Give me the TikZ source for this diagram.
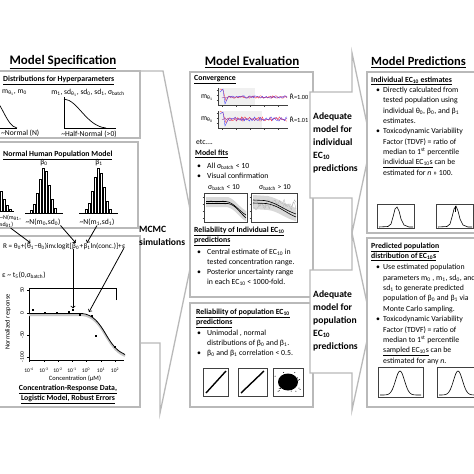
\documentclass[tikz,border=0pt]{standalone}
\usepackage{fontspec}
\setmainfont{Carlito}
\newfontfamily\djv{DejaVu Sans}
\usetikzlibrary{positioning}
\newcommand{\subt}[1]{\textsubscript{#1}}
\newcommand{\bulit}{\makebox[10pt][l]{\textbullet}}
\newcommand{\contit}{\hspace*{10pt}}
\newcommand{\bulr}{\makebox[7pt][l]{\textbullet}}
\newcommand{\contr}{\hspace*{7pt}}
\newcommand{\rhat}{{\djv R̂}}
\tikzset{
  panel/.style={draw=gray!55, line width=1.3pt, fill=white},
  coltitle/.style={font=\fontsize{13}{15}\selectfont\bfseries, inner sep=0pt},
  hdr/.style={font=\fontsize{7.8}{10}\selectfont\bfseries, inner sep=0pt, anchor=west},
  body/.style={font=\fontsize{7.8}{10.3}\selectfont, inner sep=0pt, align=left, anchor=north west},
  lab/.style={font=\fontsize{7.6}{9}\selectfont, inner sep=0pt},
  eqpart/.style={font=\fontsize{7.2}{9}\selectfont, inner sep=0pt, anchor=base west},
  verdict/.style={font=\fontsize{9.6}{12.8}\selectfont\bfseries, inner sep=0pt, align=left, anchor=north west},
  ticklab/.style={font=\fontsize{5.5}{6}\selectfont, inner sep=0pt},
  frm/.style={draw=black!75, line width=0.4pt},
}
\begin{document}
\begin{tikzpicture}[x=1pt, y=-1pt]
\useasboundingbox (0,0) rectangle (474,474);
\fill[white] (0,0) rectangle (474,474);
\pgfmathsetseed{7}

% BIG ARROW BEHIND THE LEFT COLUMN
\draw[panel] (-5,71) -- (163,71) -- (196,240) -- (160,413) -- (160,343) -- (-5,343);

% LEFT COLUMN
\node[coltitle] (spec) at (63,62) {\underline{Model Specification}};
\draw[panel] (-5,71) rectangle (140,138);
\draw[panel] (-5,142) rectangle (138,228);
\draw[panel] (-5,236) rectangle (140,407);

% hyperparameters
\node[hdr] (hyp) at (3,80) {\underline{Distributions for Hyperparameters}};
\node[lab, anchor=west] (mlo) at (2,93) {m\subt{θ\subt{1}}, m\subt{0}};
\draw[line width=0.7pt] (-8,98) .. controls (2,101) and (6,126) .. (17,128);
\draw[line width=0.7pt] (-8,128.5) -- (17,128.5);
\node[lab, anchor=west] (nlab) at (1,133) {\textasciitilde Normal (N)};
\node[lab] (hlab) at (88,93) {m\subt{1}, sd\subt{θ\subt{1}}, sd\subt{0}, sd\subt{1}, σ\subt{batch}};
\draw[line width=0.7pt] (64,97) -- (64,128.5) -- (116,128.5);
\draw[line width=0.7pt] (64,99) .. controls (78,100) and (86,126) .. (106,128);
\node[lab] (hnlab) at (89,134) {\textasciitilde Half-Normal (>0)};

% population model
\node[hdr] (popm) at (3,155) {\underline{Normal Human Population Model}};
\foreach \dx/\h in {-9/30,-6/27,-3/20,0/12,3/6,6/2}
  \draw[line width=0.5pt, fill=white] ({3+\dx},211) rectangle ++(2.4,-\h);
\foreach \dx/\h in {-13/3,-10/9,-7/20,-4/34,-1/45,2/42,5/28,8/14,11/5}
  \draw[line width=0.5pt, fill=white] ({43+\dx},213) rectangle ++(2.4,-\h);
\foreach \dx/\h in {-13/4,-10/10,-7/22,-4/36,-1/45,2/40,5/26,8/12,11/4}
  \draw[line width=0.5pt, fill=white] ({98+\dx},213) rectangle ++(2.4,-\h);
\draw (-5,211.5) -- (14,211.5);
\draw (25,213.5) -- (63,213.5);
\draw (79,213.5) -- (118,213.5);
\node[lab] (b0) at (44,163) {β\subt{0}};
\node[lab] (b1) at (99,163) {β\subt{1}};
\node[lab, font=\fontsize{6}{6.8}\selectfont, align=left, anchor=north west] (nth) at (0,215) {\textasciitilde N(m\subt{θ1},\\sd\subt{θ1})};
\node[lab] (n0) at (43,222) {\textasciitilde N(m\subt{0},sd\subt{0})};
\node[lab] (n1) at (97,222) {\textasciitilde N(m\subt{1},sd\subt{1})};

% model equation
\node[eqpart] (eqa) at (3,248) {R = θ\subt{0}+(};
\node[eqpart] (eqt1) at (eqa.base east) {θ\subt{1}};
\node[eqpart] (eqm) at (eqt1.base east) {−θ\subt{0})inv.logit[};
\node[eqpart] (eqb0) at (eqm.base east) {β\subt{0}};
\node[eqpart] (eqp) at (eqb0.base east) {+};
\node[eqpart] (eqb1) at (eqp.base east) {β\subt{1}};
\node[eqpart] (eqln) at (eqb1.base east) {ln(conc.)]+};
\node[eqpart] (eqe) at (eqln.base east) {ε};
\node[lab, anchor=west] (err) at (2,275) {ε \textasciitilde{} t\subt{5}(0,σ\subt{batch})};

% dose response plot
\draw[line width=0.6pt] (116,300) -- (116,288) -- (29,288) -- (29,360) -- (124,360);
\foreach \y/\t [count=\i] in {290/50, 313/0, 335/-50, 357/-100} {
  \draw (27,\y) -- (29,\y);
  \node[ticklab, rotate=90] (yt\i) at (22,\y) {\t};
}
\foreach \x/\e [count=\i] in {29/-4, 44/-3, 58/-2, 72/-1, 86/0, 101/1, 115/2} {
  \draw (\x,360) -- (\x,362);
  \node[ticklab] (xt\i) at (\x,370) {10\textsuperscript{\e}};
}
\node[ticklab, font=\fontsize{6.5}{7}\selectfont] (xlab) at (75,379) {Concentration (µM)};
\node[ticklab, rotate=90, font=\fontsize{6.5}{7}\selectfont] (ylab) at (8,322) {Normalized response};
\draw[gray!45, line width=2pt] (29,315) -- (82,315) .. controls (93,316) and (99,324) .. (106,336) .. controls (113,348) and (118,353) .. (125,356);
\draw[line width=0.8pt] (29,313.5) -- (82,313.5) .. controls (93,314.5) and (99,322.5) .. (106,334.5) .. controls (113,346.5) and (118,351.5) .. (125,354.5);
\foreach \px/\py [count=\i] in {33/310, 45/313, 57/313, 69/312, 73/310, 80/315, 92/316, 96/336, 115/347}
  \node[fill, inner sep=1.4pt] (dp\i) at (\px,\py) {};
\coordinate (fitpt) at (89,312);

% ARROWS
\draw[->, line width=0.8pt] (nth.south) -- (eqt1.north);
\draw[->, line width=0.8pt] (n0.south east) -- (eqb0.north);
\draw[->, line width=0.8pt] (n1.south) -- (eqb1.north);
\draw[->, line width=0.8pt] (dp5 |- eqa.south) -- (dp5.north);
\draw[->, line width=0.8pt] (eqe.south) -- (fitpt);

\node[hdr, anchor=center, align=center] (cap1) at (68,394) {\underline{Concentration-Response Data,}\\\underline{Logistic Model, Robust Errors}};

\node[verdict] (mcmc) at (139,226) {MCMC\\simulations};

% MIDDLE COLUMN
\node[coltitle] (eval) at (252,62) {\underline{Model Evaluation}};
\draw[panel] (190,72) rectangle (313,297);
\draw[panel] (190,303) rectangle (313,407);

% convergence
\node[hdr] (conv) at (194,80) {\underline{Convergence}};
\node[lab] (mth1) at (207,98) {m\subt{θ\subt{1}}};
\fill[gray!12] (219,88) rectangle (255,104.5);
\draw[frm] (218,88) -- (218,105) -- (288,105);
\foreach \t in {90,95,100} \draw[frm] (216.5,\t) -- (218,\t);
\foreach \t in {222,236,250,264,278} \draw[frm] (\t,105) -- (\t,106.5);
\draw[red!75, line width=0.35pt] (220,89) -- (223,90) -- (226,101) -- (229,96) -- plot[domain=230:287, samples=45] (\x,{97+1.3*rand});
\draw[blue!75, line width=0.35pt] (220,92) -- (223,89) -- (225,104) -- (228,97) -- plot[domain=230:287, samples=45] (\x,{97+1.3*rand});
\draw[violet!80, line width=0.35pt] plot[domain=222:287, samples=45] (\x,{97+1.1*rand});
\node[lab, font=\fontsize{6.3}{7}\selectfont] (rh1) at (299,97) {\rhat=1.00};

\node[lab] (mth0) at (207,120) {m\subt{θ\subt{0}}};
\fill[gray!12] (219,111) rectangle (262,127.5);
\draw[frm] (218,111) -- (218,128) -- (288,128);
\foreach \t in {113,118,123} \draw[frm] (216.5,\t) -- (218,\t);
\foreach \t in {222,236,250,264,278} \draw[frm] (\t,128) -- (\t,129.5);
\draw[red!75, line width=0.35pt] (220,111) -- (223,113) -- (226,123) -- (229,118) -- plot[domain=230:287, samples=45] (\x,{119+2.2*rand});
\draw[blue!75, line width=0.35pt] (220,114) -- (223,112) -- (225,126) -- (228,120) -- plot[domain=230:287, samples=45] (\x,{119+2.2*rand});
\draw[violet!80, line width=0.35pt] plot[domain=222:287, samples=45] (\x,{119+1.8*rand});
\node[lab, font=\fontsize{6.3}{7}\selectfont] (rh2) at (299,120) {\rhat=1.01};
\node[lab, anchor=west] (etc) at (196,142) {etc\ldots.};

% model fits
\node[hdr] (fits) at (195,154) {\underline{Model fits}};
\node[body] (fitbul) at (197,163) {\bulit All σ\subt{batch} < 10\\\bulit Visual confirmation};
\node[lab] (sgl) at (224,188) {σ\subt{batch} < 10};
\node[lab] (sgh) at (275,188) {σ\subt{batch} > 10};
\draw[frm] (204,193) rectangle (247,222);
\foreach \t in {197,204,211,218} \draw[frm] (202.5,\t) -- (204,\t);
\fill[gray!30] (206,197) -- (228,197) .. controls (236,200) and (240,208) .. (246,211) -- (246,221) .. controls (240,219) and (236,209) .. (227,207) -- (206,207) -- cycle;
\draw[gray!60, line width=0.3pt] plot[domain=206:226, samples=15] (\x,{202+2.5*rand});
\draw[line width=0.6pt] (206,201.5) -- (226,201.5) .. controls (234,202.5) and (239,211) .. (246,215);
\draw[line width=0.6pt] (206,203.5) -- (228,203.5) .. controls (236,205) and (240,213) .. (246,218);
\draw[frm] (251,193) rectangle (297,222);
\foreach \t in {197,204,211,218} \draw[frm] (249.5,\t) -- (251,\t);
\fill[gray!30] (253,195) -- (268,196) .. controls (280,199) and (288,206) .. (296,208) -- (296,221) .. controls (286,219) and (278,211) .. (268,210) -- (253,209) -- cycle;
\draw[gray!60, line width=0.3pt] plot[domain=253:296, samples=30] (\x,{203+4*rand});
\draw[gray!60, line width=0.3pt] plot[domain=253:296, samples=30] (\x,{206+4*rand});
\draw[line width=0.6pt] (253,200) -- (264,200.5) .. controls (276,202) and (284,210) .. (296,214);
\draw[line width=0.6pt] (253,203) -- (266,203.5) .. controls (278,205) and (286,213) .. (296,217);

% reliability of individual predictions
\node[hdr] (relind) at (194,231) {\underline{Reliability of Individual EC\subt{10}}};
\node[hdr] (relind2) at (194,241) {\underline{predictions}};
\node[body, font=\fontsize{7.8}{9.8}\selectfont] (indbul) at (197,249) {\bulit Central estimate of EC\subt{10} in\\\contit tested concentration range.\\\bulit Posterior uncertainty range\\\contit in each EC\subt{10} < 1000-fold.};

% reliability of population predictions
\node[hdr] (relpop) at (196,313) {\underline{Reliability of population EC\subt{10}}};
\node[hdr] (relpop2) at (196,323) {\underline{predictions}};
\node[body, font=\fontsize{7.8}{10}\selectfont] (popbul) at (197,330) {\bulit Unimodal , normal\\\contit distributions of β\subt{0} and β\subt{1}.\\\bulit β\subt{0} and β\subt{1} correlation < 0.5.};
\draw[frm] (203,368) rectangle (228,396);
\draw[frm] (238,368) rectangle (267,396);
\draw[frm] (273,368) rectangle (303,396);
\draw[line width=1.4pt] (206,393) -- (226,371);
\draw[line width=1.4pt] (241,393) -- (264,371);
\fill (288,382) ellipse (10 and 8.5);
\foreach \i in {1,...,30} \fill ({288+13*rand},{382+10*rand}) circle (0.5);

% ADEQUACY ARROWS
\draw[panel] (310,92) -- (352,92) -- (352,53) -- (371,143) -- (352,233) -- (352,198) -- (310,198) -- cycle;
\draw[panel] (310,270) -- (352,270) -- (352,233) -- (371,322) -- (352,410) -- (352,373) -- (310,373) -- cycle;
\node[verdict] (adind) at (313,113) {Adequate\\model for\\individual\\EC\subt{10}\\predictions};
\node[verdict] (adpop) at (313,291) {Adequate\\model for\\population\\EC\subt{10}\\predictions};

% RIGHT COLUMN
\node[coltitle, font=\fontsize{12.5}{15}\selectfont\bfseries, anchor=west] (pred) at (371,62) {\underline{Model Predictions}};
\draw[panel] (367,72) rectangle (480,233);
\draw[panel] (367,238) rectangle (480,407);

\node[hdr] (indest) at (371,81) {\underline{Individual EC\subt{10} estimates}};
\node[body] (indtxt) at (376,87) {\bulr Directly calculated from\\\contr tested population using\\\contr individual θ\subt{0}, β\subt{0}, and β\subt{1}\\\contr estimates.\\\bulr Toxicodynamic Variability\\\contr Factor (TDVF) = ratio of\\\contr median to 1\textsuperscript{st} percentile\\\contr \underline{individual EC\subt{10}s} can be\\\contr estimated for \textit{n} >> 100.};
\draw[frm] (377,204) rectangle (414,228);
\draw[frm] (436,204) rectangle (473,228);
\draw[line width=0.6pt] (379,227) -- (388,226.5) -- (391,224) -- (393,217) -- (395,209) -- (397,207) -- (399,211) -- (401,219) -- (404,225) -- (409,227) -- (413,227);
\draw[line width=0.6pt] (438,227) -- (447,226.5) -- (450,224) -- (452,217) -- (454,209) -- (456,206) -- (458,211) -- (460,219) -- (463,225) -- (468,227) -- (472,227);
\draw[line width=1pt] (455,206) -- (455,212);

\node[hdr] (popdist) at (371,247) {\underline{Predicted population}};
\node[hdr] (popdist2) at (371,257) {\underline{distribution of EC\subt{10}s}};
\node[body, font=\fontsize{7.8}{10.4}\selectfont] (poptxt) at (376,264) {\bulr Use estimated population\\\contr parameters m\subt{0} , m\subt{1}, sd\subt{0}, and\\\contr sd\subt{1} to generate predicted\\\contr population of β\subt{0} and β\subt{1} via\\\contr Monte Carlo sampling.\\\bulr Toxicodynamic Variability\\\contr Factor (TDVF) = ratio of\\\contr median to 1\textsuperscript{st} percentile\\\contr \underline{sampled EC\subt{10}s} can be\\\contr estimated for any \textit{n}.};
\draw[frm] (378,367) rectangle (423,397);
\draw[frm] (437,367) rectangle (482,397);
\draw[line width=0.6pt] plot[domain=380:421, samples=40] (\x,{395-24*exp(-(\x-400)*(\x-400)/40)});
\draw[line width=0.6pt] plot[domain=439:480, samples=40] (\x,{395-24*exp(-(\x-458)*(\x-458)/40)});

\end{tikzpicture}
\end{document}
